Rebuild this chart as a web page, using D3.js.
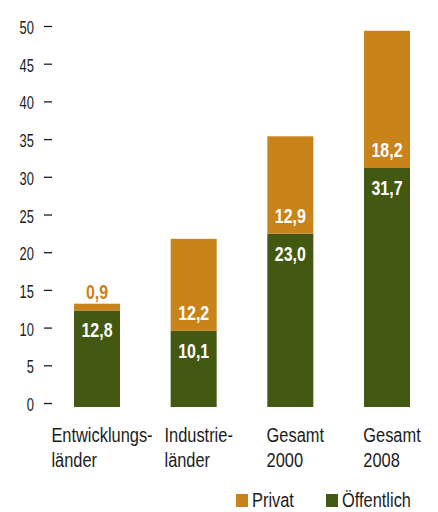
<!DOCTYPE html>
<html>
<head>
<meta charset="utf-8">
<script src="https://cdn.jsdelivr.net/npm/d3@7"></script>
<style>
  body { margin: 0; background: #fff; }
  svg text { font-family: "Liberation Sans", Arial, sans-serif; }
</style>
</head>
<body>
<svg id="chart" width="438" height="512"></svg>
<script>
// data
var categories = [["Entwicklungs-", "länder"], ["Industrie-", "länder"], ["Gesamt", "2000"], ["Gesamt", "2008"]];
var oeffentlich = [12.8, 10.1, 23.0, 31.7];
var privat = [0.9, 12.2, 12.9, 18.2];
var yTicks = [0, 5, 10, 15, 20, 25, 30, 35, 40, 45, 50];
var seriesNames = ["Privat", "Öffentlich"];

var orange = "#c8841b", green = "#435911", ink = "#1c1c1c";
var fmt = function(v){ return d3.format(".1f")(v).replace(".", ","); };

// no narrow font installed -> squeeze glyphs horizontally
function condense(sel, k){
  sel.each(function(){
    var w = this.getComputedTextLength();
    d3.select(this).attr("textLength", w * k).attr("lengthAdjust", "spacingAndGlyphs");
  });
}

var svg = d3.select("#chart");

var x = d3.scaleBand()
  .domain(d3.range(categories.length))
  .range([74, 410])
  .paddingInner(0.524)
  .paddingOuter(0);

var y = d3.scaleLinear()
  .domain([0, 50])
  .range([407, 30]);

// y axis: number + dash
var ticks = svg.append("g").attr("class", "y-axis");
ticks.selectAll("text")
  .data(yTicks)
  .enter()
  .append("text")
  .attr("x", 34)
  .attr("y", function(d){ return y(d) + 4; })
  .attr("text-anchor", "end")
  .attr("font-size", 19)
  .attr("fill", ink)
  .text(function(d){ return d; })
  .call(condense, 0.68);
ticks.selectAll("line")
  .data(yTicks)
  .enter()
  .append("line")
  .attr("x1", 44).attr("x2", 52)
  .attr("y1", function(d){ return y(d) - 3.5; })
  .attr("y2", function(d){ return y(d) - 3.5; })
  .attr("stroke", ink)
  .attr("stroke-width", 1.3);

// bars
var bars = svg.append("g").attr("class", "bars");
bars.selectAll("rect.oef")
  .data(oeffentlich)
  .enter()
  .append("rect")
  .attr("class", "oef")
  .attr("x", function(d,i){ return x(i); })
  .attr("width", x.bandwidth())
  .attr("y", function(d){ return y(d); })
  .attr("height", function(d){ return y(0) - y(d); })
  .attr("fill", green);
bars.selectAll("rect.pri")
  .data(privat)
  .enter()
  .append("rect")
  .attr("class", "pri")
  .attr("x", function(d,i){ return x(i); })
  .attr("width", x.bandwidth())
  .attr("y", function(d,i){ return y(d + oeffentlich[i]); })
  .attr("height", function(d,i){ return y(oeffentlich[i]) - y(d + oeffentlich[i]); })
  .attr("fill", orange);

// value labels
var labels = svg.append("g").attr("font-weight", "bold").attr("font-size", 21).attr("text-anchor", "middle");
labels.selectAll("text.oef")
  .data(oeffentlich)
  .enter()
  .append("text")
  .attr("x", function(d,i){ return x(i) + x.bandwidth()/2; })
  .attr("y", function(d){ return y(d) + 27; })
  .attr("fill", "#fff")
  .text(fmt)
  .call(condense, 0.76);
labels.selectAll("text.pri")
  .data(privat)
  .enter()
  .append("text")
  .attr("x", function(d,i){ return x(i) + x.bandwidth()/2; })
  .attr("y", function(d,i){ return y(oeffentlich[i]) - 11; })
  .attr("fill", function(d,i){ return (y(oeffentlich[i]) - y(d + oeffentlich[i])) < 25 ? orange : "#fff"; })
  .text(fmt)
  .call(condense, 0.76);

// category labels
var cat = svg.append("g").attr("font-size", 20).attr("fill", ink);
categories.forEach(function(lines, i){
  var t = cat.append("text");
  lines.forEach(function(l, k){
    t.append("tspan").attr("y", 442 + k*25).text(l);
  });
  var w = 0;
  t.selectAll("tspan").each(function(){ w = Math.max(w, this.getComputedTextLength() * 0.82); });
  t.selectAll("tspan").call(condense, 0.82);
  var left = x(i) + x.bandwidth()/2 - w/2 + 5;
  t.selectAll("tspan").attr("x", left);
});

// legend
var legend = svg.append("g").attr("font-size", 20).attr("fill", ink);
var legX = [236, 326];
seriesNames.forEach(function(n, i){
  legend.append("rect")
    .attr("x", legX[i]).attr("y", 494)
    .attr("width", 12).attr("height", 13)
    .attr("fill", i === 0 ? orange : green);
  legend.append("text")
    .attr("x", legX[i] + 16).attr("y", 507)
    .text(n)
    .call(condense, 0.82);
});
</script>
</body>
</html>
